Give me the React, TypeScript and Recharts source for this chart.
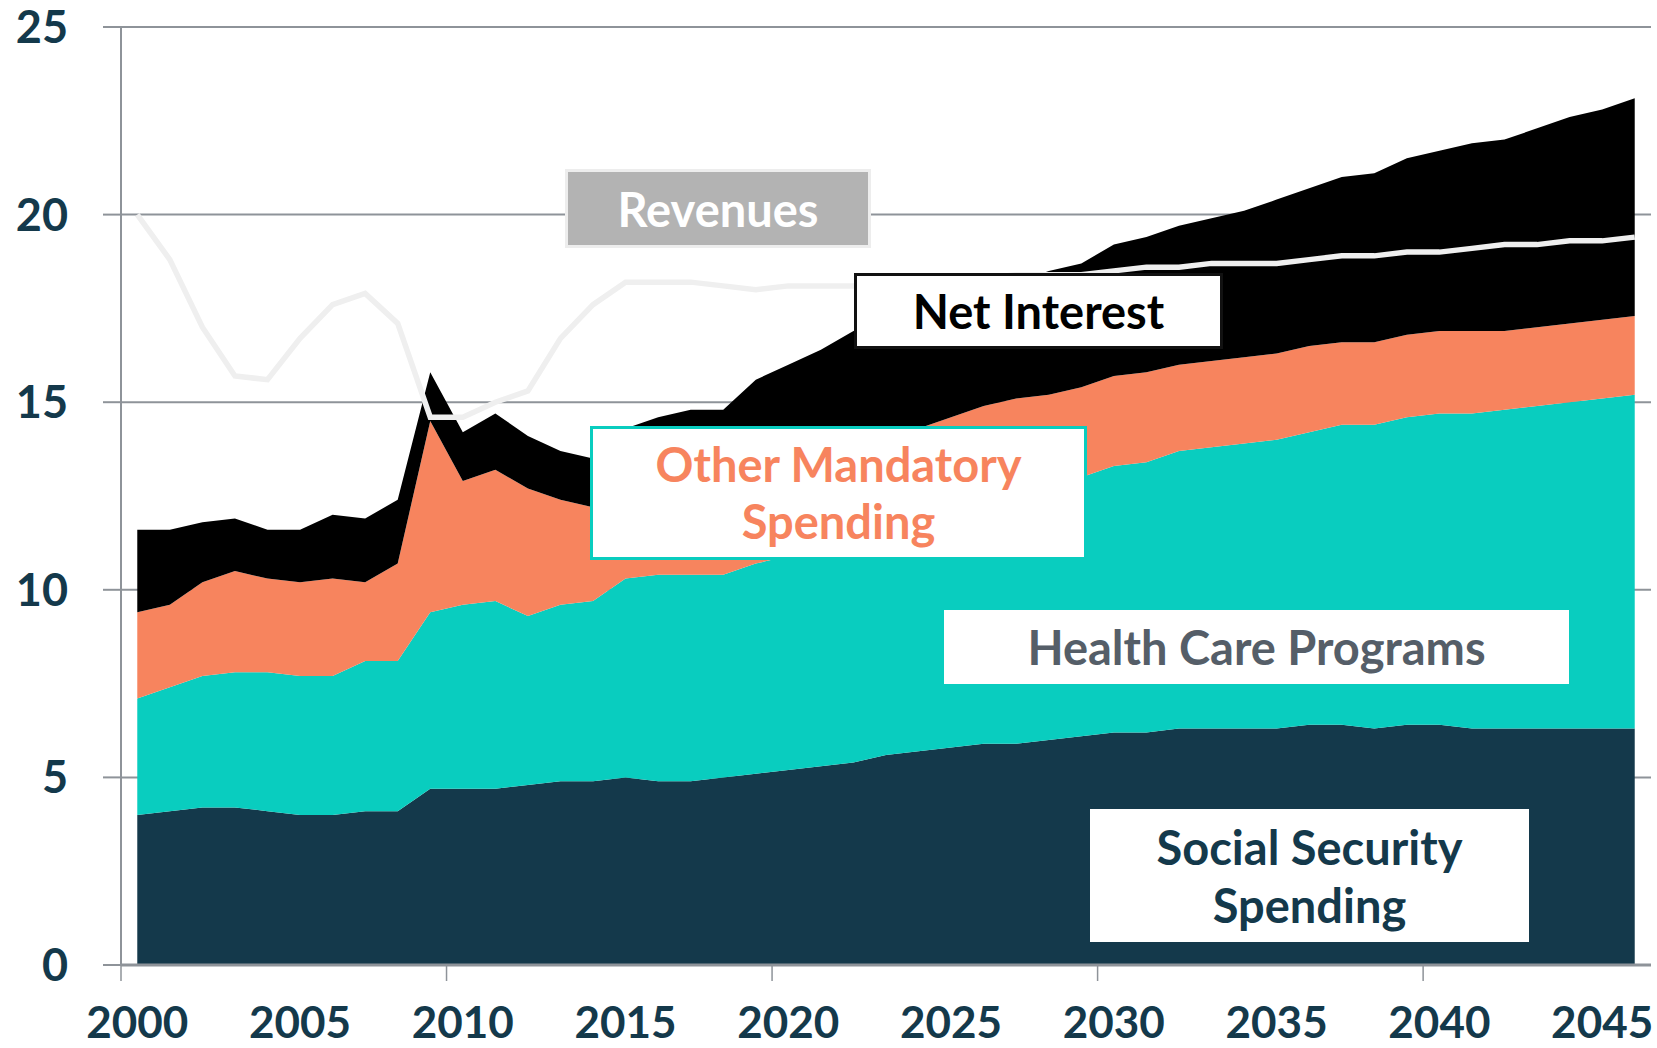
import React from 'react';
import { ComposedChart, Area, Line, XAxis, YAxis, CartesianGrid } from 'recharts';

// fiscal years, one point per year
const years = [
  2000, 2001, 2002, 2003, 2004, 2005, 2006, 2007, 2008, 2009,
  2010, 2011, 2012, 2013, 2014, 2015, 2016, 2017, 2018, 2019,
  2020, 2021, 2022, 2023, 2024, 2025, 2026, 2027, 2028, 2029,
  2030, 2031, 2032, 2033, 2034, 2035, 2036, 2037, 2038, 2039,
  2040, 2041, 2042, 2043, 2044, 2045, 2046,
];

// % of GDP, stacked bottom to top
const socialSecurity = [
  4.0, 4.1, 4.2, 4.2, 4.1, 4.0, 4.0, 4.1, 4.1, 4.7,
  4.7, 4.7, 4.8, 4.9, 4.9, 5.0, 4.9, 4.9, 5.0, 5.1,
  5.2, 5.3, 5.4, 5.6, 5.7, 5.8, 5.9, 5.9, 6.0, 6.1,
  6.2, 6.2, 6.3, 6.3, 6.3, 6.3, 6.4, 6.4, 6.3, 6.4,
  6.4, 6.3, 6.3, 6.3, 6.3, 6.3, 6.3,
];

const healthCare = [
  3.1, 3.3, 3.5, 3.6, 3.7, 3.7, 3.7, 4.0, 4.0, 4.7,
  4.9, 5.0, 4.5, 4.7, 4.8, 5.3, 5.5, 5.5, 5.4, 5.6,
  5.7, 5.8, 5.9, 6.0, 6.1, 6.2, 6.4, 6.6, 6.7, 6.9,
  7.1, 7.2, 7.4, 7.5, 7.6, 7.7, 7.8, 8.0, 8.1, 8.2,
  8.3, 8.4, 8.5, 8.6, 8.7, 8.8, 8.9,
];

const otherMandatory = [
  2.3, 2.2, 2.5, 2.7, 2.5, 2.5, 2.6, 2.1, 2.6, 5.1,
  3.3, 3.5, 3.4, 2.8, 2.5, 2.6, 2.7, 2.7, 2.7, 2.6,
  2.6, 2.6, 2.6, 2.5, 2.5, 2.6, 2.6, 2.6, 2.5, 2.4,
  2.4, 2.4, 2.3, 2.3, 2.3, 2.3, 2.3, 2.2, 2.2, 2.2,
  2.2, 2.2, 2.1, 2.1, 2.1, 2.1, 2.1,
];

const netInterest = [
  2.2, 2.0, 1.6, 1.4, 1.3, 1.4, 1.7, 1.7, 1.7, 1.3,
  1.3, 1.5, 1.4, 1.3, 1.3, 1.4, 1.5, 1.7, 1.7, 2.3,
  2.5, 2.7, 3.0, 3.1, 3.2, 3.2, 3.1, 3.1, 3.3, 3.3,
  3.5, 3.6, 3.7, 3.8, 3.9, 4.1, 4.2, 4.4, 4.5, 4.7,
  4.8, 5.0, 5.1, 5.3, 5.5, 5.6, 5.8,
];

const revenues = [
  20.0, 18.8, 17.0, 15.7, 15.6, 16.7, 17.6, 17.9, 17.1, 14.6,
  14.6, 15.0, 15.3, 16.7, 17.6, 18.2, 18.2, 18.2, 18.1, 18.0,
  18.1, 18.1, 18.1, 18.2, 18.2, 18.3, 18.3, 18.4, 18.4, 18.4,
  18.5, 18.6, 18.6, 18.7, 18.7, 18.7, 18.8, 18.9, 18.9, 19.0,
  19.0, 19.1, 19.2, 19.2, 19.3, 19.3, 19.4,
];

const yTicks = [0, 5, 10, 15, 20, 25];
const xLabelYears = [2000, 2005, 2010, 2015, 2020, 2025, 2030, 2035, 2040, 2045];
// tick marks sit on category boundaries, every ten years
const xTickMarks = [1999.5, 2009.5, 2019.5, 2029.5, 2039.5];

const data = years.map((year, i) => ({
  year,
  socialSecurity: socialSecurity[i],
  healthCare: healthCare[i],
  otherMandatory: otherMandatory[i],
  netInterest: netInterest[i],
  revenues: revenues[i],
}));

const FONT = 'Lato, "Open Sans", sans-serif';
const NAVY = '#14394B';
const TEAL = '#09CDBF';
const SALMON = '#F7845E';
const GRID = '#8E9399';

const allXTicks = [...xTickMarks, ...xLabelYears].sort((a, b) => a - b);

const XTick = (props: any) => {
  const { x, y, payload } = props;
  const v = payload.value as number;
  if (v % 1 !== 0) {
    return <line x1={x} x2={x} y1={y} y2={y + 16} stroke={GRID} strokeWidth={1.5} />;
  }
  return (
    <text
      x={x}
      y={y + 73}
      textAnchor="middle"
      fontFamily={FONT}
      fontWeight={700}
      fontSize={44}
      fill={NAVY}
    >
      {v}
    </text>
  );
};

const boxBase: React.CSSProperties = {
  position: 'absolute',
  boxSizing: 'border-box',
  display: 'flex',
  alignItems: 'center',
  justifyContent: 'center',
  textAlign: 'center',
  fontFamily: FONT,
  fontWeight: 700,
  fontSize: 47,
};

export default function App() {
  return (
    <div style={{ position: 'absolute', left: 0, top: 0, width: 1657, height: 1048, background: '#fff' }}>
      <ComposedChart width={1657} height={1048} data={data} margin={{ top: 27, right: 6, bottom: 0, left: 0 }}>
        <CartesianGrid vertical={false} stroke={GRID} strokeWidth={2} />
        <XAxis
          dataKey="year"
          type="number"
          domain={[1999.5, 2046.5]}
          ticks={allXTicks}
          interval={0}
          height={83}
          tickSize={0}
          tickMargin={0}
          tickLine={false}
          axisLine={{ stroke: GRID, strokeWidth: 3 }}
          tick={XTick}
        />
        <YAxis
          type="number"
          domain={[0, 25]}
          ticks={yTicks}
          interval={0}
          width={121}
          tickSize={18}
          tickMargin={35}
          tickLine={{ stroke: GRID, strokeWidth: 2 }}
          axisLine={{ stroke: GRID, strokeWidth: 2 }}
          tick={{ fontFamily: FONT, fontWeight: 700, fontSize: 45, fill: NAVY }}
        />
        <Area type="linear" dataKey="socialSecurity" stackId="s" fill={NAVY} fillOpacity={1} stroke="none" dot={false} activeDot={false} isAnimationActive={false} />
        <Area type="linear" dataKey="healthCare" stackId="s" fill={TEAL} fillOpacity={1} stroke="none" dot={false} activeDot={false} isAnimationActive={false} />
        <Area type="linear" dataKey="otherMandatory" stackId="s" fill={SALMON} fillOpacity={1} stroke="none" dot={false} activeDot={false} isAnimationActive={false} />
        <Area type="linear" dataKey="netInterest" stackId="s" fill="#000000" fillOpacity={1} stroke="none" dot={false} activeDot={false} isAnimationActive={false} />
        <Line type="linear" dataKey="revenues" stroke="#EFEFEF" strokeWidth={5.5} dot={false} activeDot={false} isAnimationActive={false} />
      </ComposedChart>

      {/* series labels */}
      <div style={{ ...boxBase, left: 565, top: 169, width: 306, height: 79, background: '#B3B3B3', border: '3px solid #EDEDED', color: '#fff' }}>
        Revenues
      </div>
      <div style={{ ...boxBase, left: 854, top: 273, width: 369, height: 76, background: '#fff', border: '3px solid #111', color: '#000' }}>
        Net Interest
      </div>
      <div style={{ ...boxBase, left: 590, top: 426, width: 497, height: 134, background: '#fff', border: `3px solid ${TEAL}`, color: SALMON, lineHeight: '57px' }}>
        Other Mandatory<br />Spending
      </div>
      <div style={{ ...boxBase, left: 944, top: 610, width: 625, height: 74, background: '#fff', color: '#555E68' }}>
        Health Care Programs
      </div>
      <div style={{ ...boxBase, left: 1090, top: 809, width: 439, height: 133, background: '#fff', color: NAVY, lineHeight: '58px' }}>
        Social Security<br />Spending
      </div>
    </div>
  );
}
